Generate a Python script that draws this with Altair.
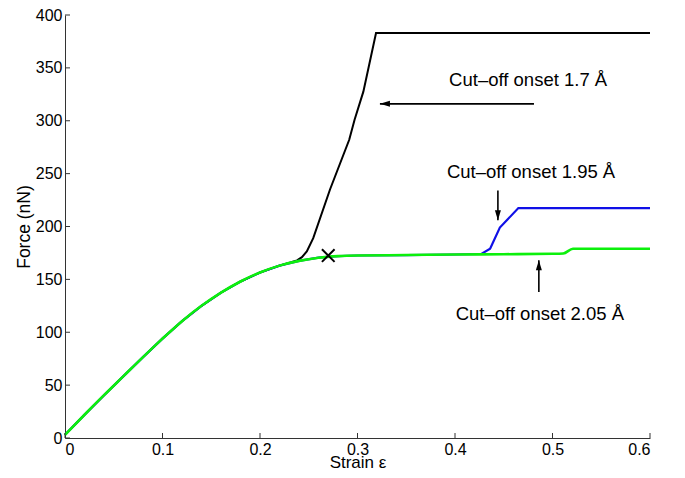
import altair as alt
import pandas as pd

# ---- data ----
green_strain = [0, 0.02, 0.04, 0.06, 0.08, 0.10, 0.12, 0.14, 0.16, 0.18, 0.20, 0.22, 0.24, 0.26, 0.28,
                0.30, 0.35, 0.40, 0.45, 0.50, 0.511, 0.521, 0.60]
green_force = [3, 22, 40.5, 58.5, 76.5, 94, 110.5, 125, 137.5, 148, 156.5, 163, 167.5, 170.5, 172,
               172.6, 173, 173.5, 173.8, 174.2, 174.5, 179, 179]

blue_strain = [0, 0.02, 0.04, 0.06, 0.08, 0.10, 0.12, 0.14, 0.16, 0.18, 0.20, 0.22, 0.24, 0.26, 0.28,
               0.30, 0.35, 0.40, 0.427, 0.436, 0.446, 0.465, 0.60]
blue_force = [3, 22, 40.5, 58.5, 76.5, 94, 110.5, 125, 137.5, 148, 156.5, 163, 167.5, 170.5, 172,
              172.6, 173, 173.5, 174, 179, 199, 217.4, 217.4]

black_strain = [0, 0.02, 0.04, 0.06, 0.08, 0.10, 0.12, 0.14, 0.16, 0.18, 0.20, 0.22, 0.232, 0.238,
                0.243, 0.248, 0.2546, 0.2718, 0.2915, 0.297, 0.306, 0.319, 0.60]
black_force = [3, 22, 40.5, 58.5, 76.5, 94, 110.5, 125, 137.5, 148, 156.5, 163, 166.2, 168,
               171, 176.5, 189, 235, 282, 301, 327.5, 383, 383]

cross_strain = [0.27]
cross_force = [172.5]

labels = ["Cut–off onset 1.7 Å", "Cut–off onset 1.95 Å", "Cut–off onset 2.05 Å"]
label_strain = [0.475, 0.478, 0.487]
label_force = [339, 251.5, 117.5]

arrow_tail_strain = [0.481, 0.444, 0.486]
arrow_tail_force = [316, 234, 138]
arrow_tip_strain = [0.323, 0.444, 0.486]
arrow_tip_force = [316, 206, 168]
arrow_angle = [270, 180, 0]

x_ticks = [0, 0.1, 0.2, 0.3, 0.4, 0.5, 0.6]
y_ticks = [0, 50, 100, 150, 200, 250, 300, 350, 400]

FONT = "Liberation Sans"
AX = "#333333"

xs = alt.Scale(domain=[0, 0.6], nice=False)
ys = alt.Scale(domain=[0, 400], nice=False)

xaxis = alt.Axis(values=x_ticks, format=".1~f", title="Strain ε", ticks=False, grid=False,
                 domainColor=AX, labelFont=FONT, labelFontSize=16, labelColor="#000",
                 labelPadding=3, titleFont=FONT, titleFontSize=17, titleFontWeight="normal",
                 titleColor="#000", titleBaseline="alphabetic", titleY=29)
yaxis = alt.Axis(values=y_ticks, format="d", title="Force (nN)", ticks=False, grid=False,
                 domainColor=AX, labelFont=FONT, labelFontSize=16, labelColor="#000",
                 labelPadding=3, titleFont=FONT, titleFontSize=17.5, titleFontWeight="normal",
                 titleColor="#000", titlePadding=2)

black_df = pd.DataFrame({"strain": black_strain, "force": black_force})
blue_df = pd.DataFrame({"strain": blue_strain, "force": blue_force})
green_df = pd.DataFrame({"strain": green_strain, "force": green_force})

black = alt.Chart(black_df).mark_line(color="#000000", strokeWidth=2).encode(
    x=alt.X("strain:Q", scale=xs, axis=xaxis), y=alt.Y("force:Q", scale=ys, axis=yaxis))
blue = alt.Chart(blue_df).mark_line(color="#1010e6", strokeWidth=2.2).encode(
    x="strain:Q", y="force:Q")
green = alt.Chart(green_df).mark_line(color="#0cf00c", strokeWidth=2.6, interpolate="monotone").encode(
    x="strain:Q", y="force:Q")

cross = alt.Chart(pd.DataFrame({"strain": cross_strain, "force": cross_force})).mark_point(
    shape="M-1,-1L1,1M-1,1L1,-1", filled=False, color="#000", strokeWidth=2, size=160, opacity=1
).encode(x="strain:Q", y="force:Q")

ann_df = pd.DataFrame({"strain": label_strain, "force": label_force, "text": labels})
texts = alt.Chart(ann_df).mark_text(font=FONT, fontSize=18.5, color="#000", align="center",
                                    baseline="middle").encode(
    x="strain:Q", y="force:Q", text="text:N")

arr_df = pd.DataFrame({"strain": arrow_tail_strain, "force": arrow_tail_force,
                       "strain2": arrow_tip_strain, "force2": arrow_tip_force,
                       "tip_strain": arrow_tip_strain, "tip_force": arrow_tip_force,
                       "angle": arrow_angle})
shafts = alt.Chart(arr_df).mark_rule(color="#000", strokeWidth=1.6).encode(
    x="strain:Q", y="force:Q", x2="strain2:Q", y2="force2:Q")
heads = alt.Chart(arr_df).mark_point(shape="M0,0L0.6,2L-0.6,2Z", filled=True, color="#000",
                                     size=100, opacity=1).encode(
    x=alt.X("tip_strain:Q", scale=xs), y=alt.Y("tip_force:Q", scale=ys),
    angle=alt.Angle("angle:Q", scale=None))

xt = alt.Chart(pd.DataFrame({"strain": x_ticks})).mark_rule(color=AX, strokeWidth=1).encode(
    x="strain:Q", y=alt.value(423), y2=alt.value(418))
yt = alt.Chart(pd.DataFrame({"force": y_ticks})).mark_rule(color=AX, strokeWidth=1).encode(
    y="force:Q", x=alt.value(0), x2=alt.value(5))

chart = alt.layer(black, blue, green, cross, shafts, heads, texts, xt, yt).properties(
    width=585, height=423,
    autosize=alt.AutoSizeParams(type="none"),
    padding={"left": 57, "top": 7, "right": 20, "bottom": 32},
    background="white",
).configure_view(stroke=None)

chart.save("out.html", embed_options={"renderer": "svg", "actions": False})
